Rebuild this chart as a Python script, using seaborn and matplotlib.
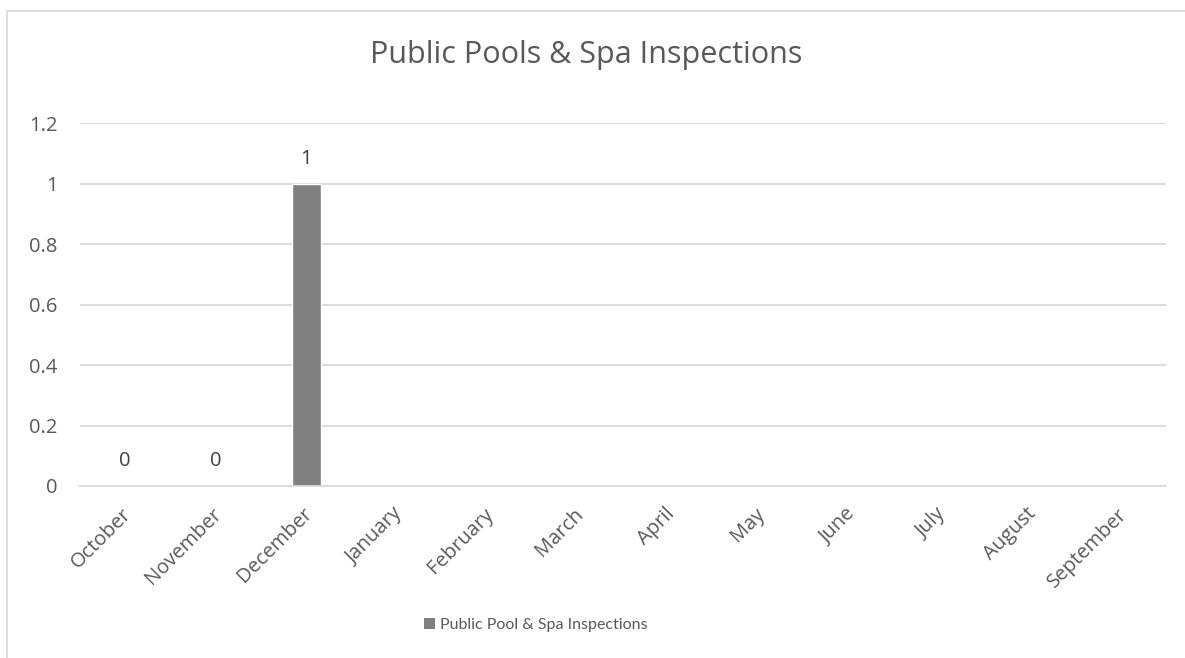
import numpy as np
import pandas as pd
import matplotlib
matplotlib.use("Agg")
import matplotlib.pyplot as plt
import matplotlib.transforms as mtransforms
from matplotlib.lines import Line2D
from matplotlib.patches import Patch
import seaborn as sns

# data
months = ["October", "November", "December", "January", "February", "March",
          "April", "May", "June", "July", "August", "September"]
inspections = [0, 0, 1, np.nan, np.nan, np.nan, np.nan, np.nan, np.nan,
               np.nan, np.nan, np.nan]
y_ticks = [0, 0.2, 0.4, 0.6, 0.8, 1, 1.2]
y_tick_labels = ["0", "0.2", "0.4", "0.6", "0.8", "1", "1.2"]
series_name = "Public Pool & Spa Inspections"
chart_title = "Public Pools & Spa Inspections"
bar_color = "#808080"

sns.set_style("white")
plt.rcParams["font.family"] = ["Open Sans", "DejaVu Sans"]

df = pd.DataFrame({"month": months, "count": inspections})

fig = plt.figure(figsize=(11.85, 6.58), dpi=100)
ax = fig.add_axes([0.0675, 0.2614, 0.9165, 0.5516])

sns.barplot(data=df, x="month", y="count", color=bar_color, saturation=1,
            width=0.32, legend=False, ax=ax)

ax.set_ylim(0, 1.2)
ax.set_xlim(-0.5, len(months) - 0.5)
ax.set_yticks(y_ticks)
ax.set_yticklabels(y_tick_labels)
ax.yaxis.grid(True, color="#d9d9d9", linewidth=1.3)
ax.set_axisbelow(True)
for s in ["top", "right", "left"]:
    ax.spines[s].set_visible(False)
ax.spines["bottom"].set_color("#d9d9d9")
ax.spines["bottom"].set_linewidth(1.3)
ax.tick_params(axis="both", length=0, colors="#595959", labelsize=14.5)
ax.tick_params(axis="y", pad=16)
ax.tick_params(axis="x", pad=13)
ax.set_xlabel("")
ax.set_ylabel("")
# rotated month labels, nudged a little left like Excel places them
shift = mtransforms.ScaledTranslation(-4 / 100, 0, fig.dpi_scale_trans)
for lbl in ax.get_xticklabels():
    lbl.set_rotation(45)
    lbl.set_ha("right")
    lbl.set_rotation_mode("anchor")
    lbl.set_transform(lbl.get_transform() + shift)

# data labels
for i, v in enumerate(inspections):
    if not np.isnan(v):
        ax.annotate(f"{v:g}", (i, v), xytext=(0, 18), textcoords="offset points",
                    ha="center", va="center", fontsize=14.5, color="#404040")

fig.text(586 / 1185, 1 - 55 / 658, chart_title, ha="center", va="center",
         fontsize=22, color="#595959")

handle = Patch(facecolor=bar_color, edgecolor="none")
fig.legend([handle], [series_name], loc="center",
           bbox_to_anchor=(536 / 1185, 1 - 625 / 658),
           frameon=False, handlelength=0.7, handleheight=0.7,
           handletextpad=0.3, prop={"family": "Lato", "size": 11.5},
           labelcolor="#595959")

# chart border (top and left edges visible in the crop)
fig.add_artist(Line2D([7 / 1185, 1], [1 - 11 / 658, 1 - 11 / 658],
                      color="#d9d9d9", linewidth=1.3, transform=fig.transFigure))
fig.add_artist(Line2D([7 / 1185, 7 / 1185], [0, 1 - 11 / 658],
                      color="#d9d9d9", linewidth=1.3, transform=fig.transFigure))

fig.savefig("out.png", dpi=100, facecolor="white")
